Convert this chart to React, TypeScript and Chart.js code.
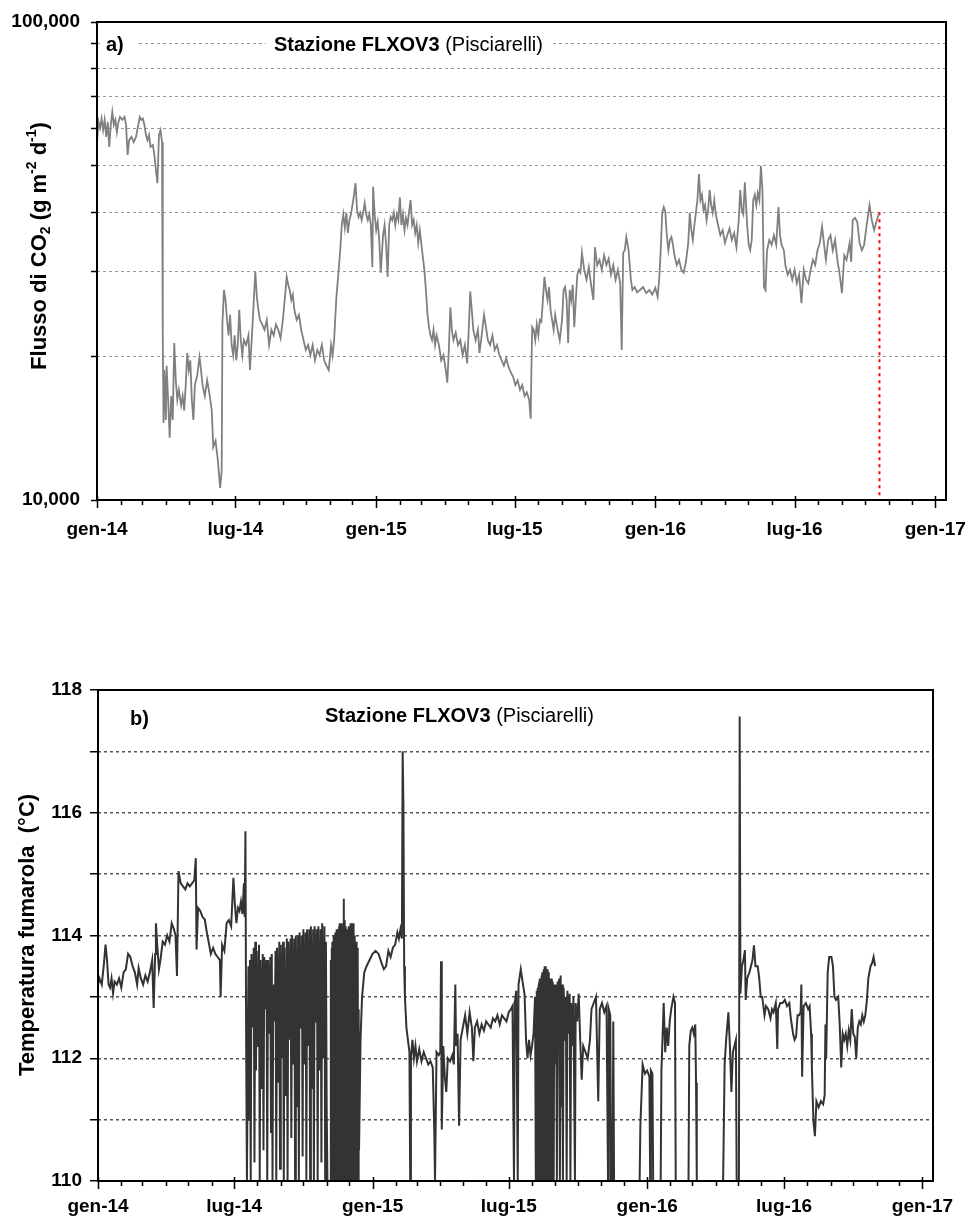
import React, { useEffect, useRef } from 'react';
import { Chart, registerables } from 'chart.js';

Chart.register(...registerables);

// ---------- DATA ----------
// Days counted from 1 Jan 2014 (gen-14)
const fluxDays = [0,2,4,6,8,10,12,14,16,18,20,22,24,26,28,30,33,36,38,40,42,45,48,51,54,56,58,60,62,64,66,68,70,73,75,77,79,81,83,85,86,87,88,90,91,93,95,97,99,101,103,105,107,110,112,114,116,118,120,122,124,126,128,131,134,136,138,141,144,147,150,152,155,158,161,163,164,166,168,170,172,174,176,178,180,182,184,186,188,190,192,195,198,200,203,205,207,209,211,213,216,219,222,225,228,231,234,237,240,243,246,248,250,252,254,256,258,261,264,267,270,273,276,279,282,285,288,291,294,297,300,303,306,308,310,313,316,318,320,322,324,326,328,330,332,334,336,338,340,342,344,346,348,350,352,354,356,358,360,361,363,365,367,369,371,374,376,378,380,382,384,386,388,390,392,394,396,398,400,402,404,406,408,410,412,414,416,418,420,422,425,428,430,432,434,436,438,440,442,444,447,450,453,456,458,460,462,464,466,469,472,475,478,481,484,486,488,490,492,495,498,500,503,506,508,511,514,517,520,523,526,529,532,535,538,541,544,547,550,553,556,559,562,565,567,568,569,571,573,575,577,579,581,583,585,587,589,591,593,595,597,599,601,603,605,608,610,612,614,616,618,620,622,624,626,628,630,632,634,637,640,643,646,649,651,654,657,660,663,666,669,672,675,678,681,684,686,688,690,692,695,698,700,703,706,710,714,718,722,726,730,733,735,737,739,741,743,745,747,749,751,753,755,758,761,764,767,770,773,775,777,779,781,783,785,787,789,791,793,795,797,799,801,803,805,807,809,812,815,818,821,824,827,830,833,836,839,841,843,845,847,850,852,854,856,858,860,862,864,866,868,870,872,874,876,879,882,885,888,891,893,895,898,900,903,906,909,912,915,918,921,924,927,930,933,936,939,942,945,948,951,953,956,959,962,965,968,971,974,977,980,984,986,988,991,994,997,1000,1003,1006,1010,1013,1016,1019,1022];
const fluxValues = [56000,61800,60000,62800,59400,62400,57500,61800,54800,60900,64800,60900,62400,58800,61800,63300,62400,63300,60900,52700,56600,57500,56100,57500,60900,63300,62400,62800,60900,58000,56600,58000,54800,55300,52700,49000,46000,58000,59400,56100,21600,14500,18700,14700,19100,16200,13500,16500,14700,21300,17800,16200,17000,15800,16500,15400,17400,20300,18700,19600,16200,14700,17400,18200,19900,18700,17400,16500,17800,16700,15400,12900,13300,12100,10600,11500,23500,27500,26200,23800,22100,24400,21100,20100,22100,19600,21100,25000,21600,20100,21600,21100,22100,18700,22700,26200,30000,26600,25000,23800,23300,22700,23800,21100,22700,22100,23300,22700,21800,23800,26900,29300,28200,27500,26200,26900,25000,23800,24400,22700,21600,20600,21100,20100,21100,19600,20600,20100,21100,19600,19100,18700,21100,20100,21600,26600,30300,33300,37600,39600,37100,39900,36200,38500,39600,41400,43500,46000,40400,39100,39900,38500,39900,41800,39600,38500,39600,37600,30700,45200,39600,36700,38200,35000,29900,35800,37600,34200,29300,37600,39100,38500,39900,37600,39600,38500,43000,37600,39600,36700,38900,37600,40100,42400,37600,38500,36200,37600,34500,36700,33300,30300,27500,24600,23000,22100,21600,22700,21100,22100,21100,19600,20100,18700,17600,20600,25300,22700,21600,22400,21100,21600,20100,21100,19300,22700,27300,25000,22700,21600,22700,20300,22100,24400,23300,21600,21100,22100,20600,21100,20100,19600,19100,19800,19000,18500,18100,17400,17800,17000,17400,16500,16800,16200,14800,19000,23000,22700,21600,23300,22100,23800,23600,26200,29300,27500,26200,27900,25000,23800,22700,24400,23300,22400,21600,23800,27500,27900,26200,21300,27500,26200,28200,23000,26200,29600,30300,29900,32900,30300,28900,30700,28200,26200,33800,31000,31800,30300,32500,31000,32000,29600,31000,28900,30300,28400,20600,32900,33300,35500,33300,28900,27500,27900,27200,27500,27900,27100,27500,26900,27800,26600,28900,33300,39900,41000,40100,35800,33300,35000,35500,34200,32500,31000,31800,30300,29900,31500,34500,39900,36700,35000,37600,39900,42400,48100,42400,43500,40400,41400,38500,40400,44500,41400,39900,42400,39600,37600,35800,36700,34500,35800,37000,35000,36200,33800,38500,44500,40400,39600,46200,37600,34200,33300,35000,42400,43500,41400,43900,42400,50000,44500,27900,27500,33300,35000,34200,35800,34200,41000,35800,34200,33300,31000,29600,30300,28900,30300,28400,29600,25800,30300,28900,28400,30300,31800,31000,33300,34500,37300,33800,31800,35000,35800,33300,35000,31800,29600,27100,32500,31800,34500,31500,38500,38900,38200,34500,33300,34200,37300,41400,38500,36700,38200,39600];

const redLineDay = 1023;
const redLineValues = [40000, 10000];

const tempDays = [
  0,2,5,8,10,12,14,16,18,20,22,25,28,31,34,37,40,43,46,49,52,54,57,60,63,66,69,72,74,76,77,79,81,83,86,89,92,95,98,101,103,105,107,110,113,116,119,122,125,128,130,131,133,136,139,142,144,147,150,153,156,159,162,163,165,168,171,174,177,180,182,184,186,188,190,192,194,195,196,197,198,
  199,200,201,202,203,204,206,207,208,209,210,211,213,214,215,216,218,219,220,221,223,224,225,226,228,229,230,231,232,233,235,236,237,238,240,241,242,243,245,246,247,248,250,251,252,253,255,256,257,258,260,261,262,263,265,266,267,268,270,271,272,273,275,276,277,278,280,281,282,283,285,286,287,288,290,291,292,293,295,296,297,298,300,301,302,303,304,
  305,309,309.5,310,310.5,311,311.5,312,312.5,313,313.5,314,314.5,315,315.5,316,316.5,317,317.5,318,318.5,319,319.5,320,320.5,321,321.5,322,322.5,323,323.5,324,324.5,325,325.5,326,326.5,327,327.5,328,328.5,329,329.5,330,330.5,331,331.5,332,332.5,333,333.5,334,334.5,335,335.5,336,336.5,337,337.5,338,338.5,339,339.5,340,340.5,341,341.5,342,342.5,343,343.5,344,344.5,345,345.5,346,346.5,347,
  349,351,354,357,361,365,369,373,377,380,383,386,389,392,395,398,400,402,404,405,406,407,408,410,412,414,415,416,418,420,422,424,427,430,433,436,439,442,445,447,448,449,450,453,455,456,457,459,461,463,465,468,471,473,475,476,478,480,482,485,488,491,494,497,499,501,504,507,510,513,516,519,522,525,528,531,534,537,540,543,546,549,551,553,554,556,558,559,562,565,567,569,571,573,575,577,579,581,
  582,582.5,583,583.5,584,584.5,585,585.5,586,586.5,587,587.5,588,588.5,589,589.5,590,590.5,591,591.5,592,592.5,593,593.5,594,594.5,595,595.5,596,596.5,597,597.5,598,598.5,599,599.5,600,600.5,601,601.5,602,602.5,603,603.5,604,604.5,605,605.5,606,606.5,607,607.5,608,
  609,610,611,612,613,614,615,616,617,618,619,621,622,623,624,626,627,628,629,631,632,634,635,637,639,
  641,643,645,648,651,654,656,659,662,665,667,670,673,676,678,679,681,682,684,685,686,720,721,724,727,730,733,734,735,737,738,748,749,752,754,756,758,760,762,765,767,768,785,786,788,790,792,794,795,796,831,833,835,838,840,842,844,846,848,849,852,853,854,856,858,860,861,863,866,868,870,872,874,877,879,881,883,886,888,891,894,896,898,901,903,904,907,910,913,916,919,921,924,926,928,930,932,934,935,936,938,941,944,946,948,949,951,953,955,958,961,964,966,967,968,970,972,975,977,979,981,984,986,988,990,992,994,996,998,1000,1002,1004,1006,1008,1010,1012,1014,1016,1018,1020,1022,1024,1027,1029,1031,1033,
];
const tempValues = [
  113.2,113.3,113.2,113.55,113.85,113.6,113.2,113.15,113.3,113.06,113.25,113.2,113.3,113.15,113.4,113.45,113.7,113.65,113.5,113.4,113.2,113.47,113.3,113.2,113.35,113.25,113.4,113.6,112.82,113.7,114.2,113.8,113.45,113.6,113.9,113.85,114.0,113.9,114.2,114.1,114.0,113.34,115.05,114.85,114.8,114.75,114.85,114.8,114.85,114.9,115.26,113.77,114.45,114.4,114.3,114.26,114.1,113.9,113.7,113.8,113.7,113.65,113.6,113.0,113.85,113.75,114.2,114.25,114.15,114.94,114.5,114.2,114.45,114.4,114.55,114.35,114.85,114.3,115.7,112.1,110.0,
  112.0,113.5,111.0,113.6,110.0,113.7,112.5,113.8,110.3,113.9,111.8,113.75,112.2,113.85,110.0,113.6,111.5,113.7,110.5,113.65,112.8,113.6,110.0,113.6,112.4,113.65,110.8,113.7,110.0,113.2,112.6,113.75,110.0,113.8,111.6,113.9,110.2,113.85,112.0,113.9,110.0,113.8,111.4,113.95,110.0,113.9,112.3,113.95,110.7,114.0,111.9,113.95,110.0,114.0,111.2,114.0,110.0,114.05,112.5,114.0,110.4,114.1,111.9,114.05,110.0,114.1,112.2,114.1,110.0,114.15,111.5,114.1,110.0,114.15,112.6,114.1,110.0,114.15,111.8,114.1,110.3,114.2,112.0,114.15,110.0,113.9,111.2,
  110.0,110.0,113.6,110.0,113.8,110.2,113.9,110.0,113.85,110.6,114.0,110.0,113.9,111.0,114.05,110.0,113.95,110.3,114.1,110.0,114.0,110.8,114.1,110.0,114.15,110.4,114.2,110.0,114.1,111.3,114.2,110.0,114.15,110.2,114.1,110.0,114.6,110.0,114.25,110.9,114.1,110.0,114.15,110.5,114.0,110.0,114.1,110.2,114.05,110.0,114.15,111.0,114.1,110.0,114.2,110.3,114.15,110.0,114.2,110.6,114.1,110.0,114.2,110.0,114.0,110.2,113.95,110.0,113.9,110.0,113.9,110.0,113.8,110.0,113.6,110.0,112.8,110.5,
  112.3,113.0,113.4,113.5,113.6,113.7,113.75,113.7,113.55,113.45,113.5,113.75,113.65,113.8,113.85,114.05,113.95,114.1,113.95,117.0,116.1,113.5,113.0,112.5,112.3,112.1,110.0,112.0,112.3,112.0,112.2,111.95,112.15,111.95,112.1,112.0,111.9,111.95,111.85,110.84,110.0,110.0,112.1,112.05,112.1,113.58,110.84,112.2,111.7,111.45,112.0,111.95,112.05,111.9,113.2,112.2,112.4,110.9,112.3,112.5,112.7,112.4,112.75,112.5,111.95,112.5,112.6,112.4,112.55,112.45,112.6,112.55,112.5,112.65,112.6,112.7,112.55,112.7,112.65,112.6,112.75,112.8,112.85,110.0,112.9,113.1,110.0,113.2,113.45,113.2,113.05,112.3,112.0,112.3,112.05,112.2,112.4,113.0,
  110.0,113.0,110.3,113.1,110.0,113.15,110.8,113.2,110.0,113.25,110.2,113.3,110.0,113.3,111.0,113.35,110.0,113.4,110.4,113.4,110.0,113.45,110.6,113.5,110.0,113.45,110.2,113.5,110.0,113.4,111.2,113.45,110.0,113.4,110.5,113.35,110.0,113.3,110.3,113.25,110.0,113.3,111.5,113.2,110.0,113.25,110.8,113.1,110.0,113.2,112.2,113.15,111.9,
  113.2,110.0,113.25,112.5,113.3,110.0,113.35,111.2,113.2,110.0,113.15,112.3,113.0,110.0,113.1,112.4,113.05,110.0,112.9,112.2,113.0,110.0,112.9,112.6,113.05,
  112.3,111.65,112.2,112.1,112.0,112.3,112.8,112.9,113.0,111.3,112.8,112.9,112.75,112.85,110.0,112.8,112.7,110.0,110.0,112.6,110.0,110.0,110.9,111.9,111.75,111.8,111.7,110.0,111.8,111.75,110.0,110.0,111.8,112.9,112.1,112.5,112.2,112.6,112.8,113.0,112.9,110.0,110.0,112.2,112.45,112.5,112.4,112.55,111.6,110.0,110.0,111.9,112.3,112.75,112.2,111.45,112.1,112.2,112.3,110.0,110.0,117.57,113.05,113.5,113.6,113.76,112.95,113.3,113.4,113.5,113.6,113.84,113.5,113.5,113.3,113.0,113.0,112.7,112.85,112.8,112.65,112.8,112.75,112.9,112.15,112.8,112.9,112.9,112.95,112.85,112.9,112.65,112.4,112.3,112.35,112.7,112.7,112.75,113.2,111.7,112.85,112.9,112.8,112.85,112.4,111.85,110.98,110.73,111.3,111.2,111.3,111.25,111.4,112.55,112.0,113.4,113.65,113.65,113.5,113.0,112.95,113.0,112.55,111.85,112.4,112.3,112.4,112.2,112.45,112.3,112.8,112.4,112.35,112.0,112.5,112.6,112.55,112.7,112.6,112.7,112.93,113.3,113.5,113.55,113.65,113.5,
];

const fluxTicks = [10000, 20000, 30000, 40000, 50000, 60000, 70000, 80000, 90000, 100000];
const fluxTickLabels: Record<number, string> = { 10000: '10,000', 100000: '100,000' };
const tempTicks = [110, 111, 112, 113, 114, 115, 116, 117, 118];
const tempTickLabels = ['110', '', '112', '', '114', '', '116', '', '118'];
const xLabels = ['gen-14', 'lug-14', 'gen-15', 'lug-15', 'gen-16', 'lug-16', 'gen-17'];
const monthCount = 36;
const xMax = 1110;

const stationBold = 'Stazione FLXOV3';
const stationPlain = ' (Pisciarelli)';
const yTitleA = [
  { t: 'Flusso di CO', s: 22, dy: 0 },
  { t: '2', s: 14, dy: 6 },
  { t: ' (g m', s: 22, dy: 0 },
  { t: '-2', s: 14, dy: -8 },
  { t: ' d', s: 22, dy: 0 },
  { t: '-1', s: 14, dy: -8 },
  { t: ')', s: 22, dy: 0 },
];
const yTitleB = [{ t: 'Temperatura fumarola  (°C)', s: 22, dy: 0 }];

// ---------- HELPERS ----------
const FONT = '"Liberation Sans", Arial, Helvetica, sans-serif';
const monthTicks: number[] = [];
for (let m = 0; m <= monthCount; m++) {
  monthTicks.push(Math.round((Date.UTC(2014, m, 1) - Date.UTC(2014, 0, 1)) / 86400000));
}
const labelForDay = (v: number) => {
  const i = monthTicks.indexOf(v);
  return i >= 0 && i % 6 === 0 ? xLabels[i / 6] : '';
};

function drawRuns(ctx: CanvasRenderingContext2D, runs: any[], cx: number, cy: number) {
  ctx.save();
  ctx.translate(cx, cy);
  ctx.rotate(-Math.PI / 2);
  ctx.textBaseline = 'middle';
  ctx.textAlign = 'left';
  ctx.fillStyle = '#000';
  let total = 0;
  for (const r of runs) {
    ctx.font = `bold ${r.s}px ${FONT}`;
    total += ctx.measureText(r.t).width;
  }
  let x = -total / 2;
  for (const r of runs) {
    ctx.font = `bold ${r.s}px ${FONT}`;
    ctx.fillText(r.t, x, r.dy);
    x += ctx.measureText(r.t).width;
  }
  ctx.restore();
}

function makeDecor(o: any) {
  return {
    id: 'decor' + o.key,
    afterDraw(chart: any) {
      const ctx = chart.ctx as CanvasRenderingContext2D;
      const a = chart.chartArea;
      const xs = chart.scales.x;
      ctx.save();
      ctx.fillStyle = '#fff';
      ctx.fillRect(o.letterBox[0], o.letterBox[1], o.letterBox[2], o.letterBox[3]);
      ctx.font = `bold 20px ${FONT}`;
      const wB = ctx.measureText(stationBold).width;
      ctx.font = `20px ${FONT}`;
      const wP = ctx.measureText(stationPlain).width;
      ctx.fillStyle = '#fff';
      ctx.fillRect(o.titleX - 8, o.titleY - 12, wB + wP + 16, 24);
      ctx.fillStyle = '#000';
      ctx.textBaseline = 'middle';
      ctx.textAlign = 'left';
      ctx.font = `bold 20px ${FONT}`;
      ctx.fillText(o.letter, o.letterX, o.letterY);
      ctx.fillText(stationBold, o.titleX, o.titleY);
      ctx.font = `20px ${FONT}`;
      ctx.fillText(stationPlain, o.titleX + wB, o.titleY);
      ctx.strokeStyle = '#000';
      ctx.lineWidth = 2;
      ctx.strokeRect(a.left, a.top, a.right - a.left, a.bottom - a.top);
      ctx.lineWidth = 1.5;
      monthTicks.forEach((d, i) => {
        const px = Math.round(xs.getPixelForValue(d)) + 0.5;
        const major = i % 6 === 0;
        ctx.beginPath();
        ctx.moveTo(px, a.bottom - (major ? 4 : 0));
        ctx.lineTo(px, a.bottom + (major ? 8 : 5));
        ctx.stroke();
      });
      ctx.restore();
      drawRuns(ctx, o.yTitle, o.yTitleX, o.yTitleY);
    },
  };
}

function xScale(height: number, pad: number) {
  return {
    type: 'linear',
    min: 0,
    max: xMax,
    grid: { display: false, drawTicks: false },
    border: { display: false },
    afterBuildTicks: (s: any) => {
      s.ticks = monthTicks.map((v) => ({ value: v }));
    },
    ticks: {
      autoSkip: false,
      maxRotation: 0,
      minRotation: 0,
      padding: pad,
      color: '#000',
      font: { family: FONT, size: 19, weight: 'bold' },
      callback: (v: any) => labelForDay(Number(v)),
    },
    afterFit: (s: any) => {
      s.height = height;
      s.paddingLeft = 0;
      s.paddingRight = 0;
    },
  };
}

export default function App() {
  const refA = useRef<HTMLCanvasElement>(null);
  const refB = useRef<HTMLCanvasElement>(null);

  useEffect(() => {
    const chartA = new Chart(refA.current as HTMLCanvasElement, {
      type: 'line',
      data: {
        datasets: [
          {
            data: fluxDays.map((d, i) => ({ x: d, y: fluxValues[i] })),
            borderColor: '#808080',
            borderWidth: 1.8,
            pointRadius: 0,
            tension: 0,
          },
          {
            data: redLineValues.map((v) => ({ x: redLineDay, y: v })),
            borderColor: '#ff0000',
            borderWidth: 2,
            borderDash: [3, 4],
            pointRadius: 0,
          },
        ],
      },
      options: {
        animation: false,
        responsive: false,
        events: [],
        layout: { padding: { left: 0, top: 22, right: 22, bottom: 0 } },
        plugins: { legend: { display: false }, tooltip: { enabled: false } },
        scales: {
          x: xScale(100, 18) as any,
          y: {
            type: 'logarithmic',
            min: 10000,
            max: 100000,
            afterBuildTicks: (s: any) => {
              s.ticks = fluxTicks.map((v) => ({ value: v }));
            },
            ticks: {
              padding: 11,
              color: '#000',
              font: { family: FONT, size: 19, weight: 'bold' },
              callback: (v: any) => fluxTickLabels[Number(v)] || '',
            },
            grid: {
              color: (c: any) => (c.tick && (c.tick.value === 10000 || c.tick.value === 100000) ? 'rgba(0,0,0,0)' : '#9a9a9a'),
              lineWidth: 1,
              drawTicks: true,
              tickLength: 6,
              tickColor: '#000',
              tickWidth: 1.5,
            },
            border: { display: false, dash: [3, 3] },
            afterFit: (s: any) => {
              s.width = 97;
              s.paddingTop = 0;
              s.paddingBottom = 0;
            },
          } as any,
        },
      },
      plugins: [
        makeDecor({
          key: 'a',
          letter: 'a)',
          letterX: 106,
          letterY: 45,
          letterBox: [100, 33, 37, 25],
          titleX: 274,
          titleY: 45,
          yTitle: yTitleA,
          yTitleX: 40,
          yTitleY: 246,
        }),
      ],
    } as any);

    const chartB = new Chart(refB.current as HTMLCanvasElement, {
      type: 'line',
      data: {
        datasets: [
          {
            data: tempDays.map((d, i) => ({ x: d, y: tempValues[i] })),
            borderColor: '#333333',
            borderWidth: 2,
            pointRadius: 0,
            tension: 0,
          },
        ],
      },
      options: {
        animation: false,
        responsive: false,
        events: [],
        layout: { padding: { left: 0, top: 90, right: 35, bottom: 0 } },
        plugins: { legend: { display: false }, tooltip: { enabled: false } },
        scales: {
          x: xScale(39, 14) as any,
          y: {
            type: 'linear',
            min: 110,
            max: 118,
            afterBuildTicks: (s: any) => {
              s.ticks = tempTicks.map((v) => ({ value: v }));
            },
            ticks: {
              padding: 8,
              color: '#000',
              font: { family: FONT, size: 19, weight: 'bold' },
              callback: (v: any, i: number) => tempTickLabels[i] || '',
            },
            grid: {
              color: (c: any) => (c.tick && (c.tick.value === 110 || c.tick.value === 118) ? 'rgba(0,0,0,0)' : '#555555'),
              lineWidth: 1.5,
              drawTicks: true,
              tickLength: 8,
              tickColor: '#000',
              tickWidth: 1.5,
            },
            border: { display: false, dash: [3, 3] },
            afterFit: (s: any) => {
              s.width = 98;
              s.paddingTop = 0;
              s.paddingBottom = 0;
            },
          } as any,
        },
      },
      plugins: [
        makeDecor({
          key: 'b',
          letter: 'b)',
          letterX: 130,
          letterY: 119,
          letterBox: [125, 108, 35, 34],
          titleX: 325,
          titleY: 116,
          yTitle: yTitleB,
          yTitleX: 28,
          yTitleY: 335,
        }),
      ],
    } as any);

    return () => {
      chartA.destroy();
      chartB.destroy();
    };
  }, []);

  return (
    <div style={{ position: 'absolute', left: 0, top: 0, width: 968, height: 1220, background: '#fff' }}>
      <canvas ref={refA} width={968} height={600} style={{ position: 'absolute', left: 0, top: 0, width: 968, height: 600 }} />
      <canvas ref={refB} width={968} height={620} style={{ position: 'absolute', left: 0, top: 600, width: 968, height: 620 }} />
    </div>
  );
}
